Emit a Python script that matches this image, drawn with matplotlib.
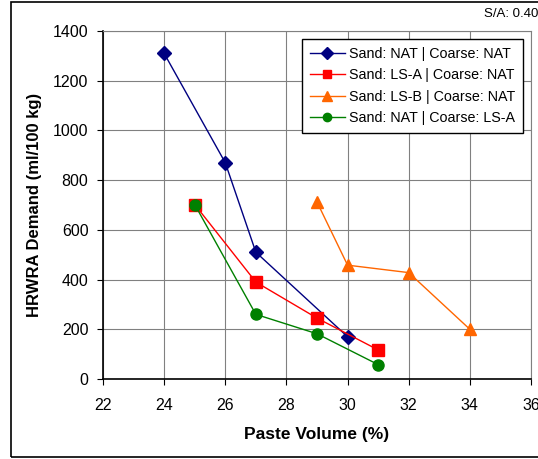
import matplotlib
matplotlib.use("Agg")
import matplotlib.pyplot as plt
from matplotlib.patches import Rectangle

plt.rcParams['font.family'] = ['Liberation Sans', 'DejaVu Sans']

x_nat_nat = [24, 26, 27, 30]
y_nat_nat = [1310, 870, 510, 170]
x_lsa_nat = [25, 27, 29, 31]
y_lsa_nat = [702, 390, 245, 117]
x_lsb_nat = [29, 30, 32, 34]
y_lsb_nat = [712, 458, 428, 200]
x_nat_lsa = [25, 27, 29, 31]
y_nat_lsa = [702, 260, 182, 58]

labels = ["Sand: NAT | Coarse: NAT", "Sand: LS-A | Coarse: NAT",
          "Sand: LS-B | Coarse: NAT", "Sand: NAT | Coarse: LS-A"]
xticks = [22, 24, 26, 28, 30, 32, 34, 36]
yticks = [0, 200, 400, 600, 800, 1000, 1200, 1400]

W, H = 538, 459
fig = plt.figure(figsize=(W / 100, H / 100), dpi=100)
ax = fig.add_axes([103 / W, 1 - 379 / H, (531 - 103) / W, (379 - 31) / H])

ax.plot(x_nat_nat, y_nat_nat, color='#000080', marker='D', markersize=7.5, lw=1, label=labels[0], clip_on=False)
ax.plot(x_lsa_nat, y_lsa_nat, color='#FF0000', marker='s', markersize=8.5, lw=1, label=labels[1], clip_on=False)
ax.plot(x_lsb_nat, y_lsb_nat, color='#FF6600', marker='^', markersize=9, lw=1, label=labels[2], clip_on=False)
ax.plot(x_nat_lsa, y_nat_lsa, color='#008000', marker='o', markersize=8, lw=1, label=labels[3], clip_on=False)

ax.set_xlim(22, 36)
ax.set_ylim(0, 1400)
ax.set_xticks(xticks)
ax.set_yticks(yticks)
ax.grid(True, color='#808080', lw=0.8)
ax.set_axisbelow(True)
ax.tick_params(labelsize=11.5, direction='out', length=4.5, width=0.8)
ax.tick_params(axis='x', pad=9)
ax.tick_params(axis='y', pad=6)
for side in ['top', 'right']:
    ax.spines[side].set_color('#808080')
    ax.spines[side].set_linewidth(0.8)
for side in ['left', 'bottom']:
    ax.spines[side].set_color('black')
    ax.spines[side].set_linewidth(1.2)

ax.set_xlabel("Paste Volume (%)", fontsize=12.5, fontweight='bold', labelpad=10)
ax.set_ylabel("HRWRA Demand (ml/100 kg)", fontsize=12, fontweight='bold', labelpad=8)

leg = ax.legend(loc='upper right', bbox_to_anchor=(523 / W, 1 - 39 / H), bbox_transform=fig.transFigure,
                fontsize=10.3, frameon=True, fancybox=False, edgecolor='black', framealpha=1,
                handlelength=2.4, handletextpad=0.3, labelspacing=0.52, borderpad=0.55,
                borderaxespad=0, markerscale=0.75)
leg.get_frame().set_linewidth(1.0)

fig.text(538 / W, 1 - 14 / H, "S/A: 0.40", fontsize=9.5, ha='right', va='center')

fig.patches.append(Rectangle((11 / W, 2 / H), 0.999, 1 - 4 / H, transform=fig.transFigure,
                             fill=False, edgecolor='black', lw=1.2))

fig.savefig("out.png", dpi=100)
